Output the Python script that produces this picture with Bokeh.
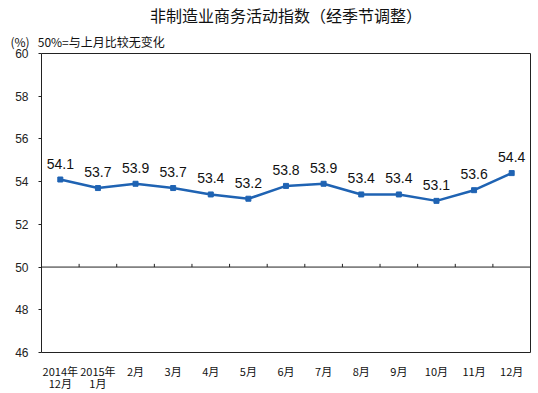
from bokeh.plotting import figure
from bokeh.models import Range1d, FixedTicker, Span, Title
from bokeh.core.properties import value
from bokeh.embed import file_html
from bokeh.resources import INLINE

months = ["2014年\n12月", "2015年\n1月", "2月", "3月", "4月", "5月", "6月",
          "7月", "8月", "9月", "10月", "11月", "12月"]
index_values = [54.1, 53.7, 53.9, 53.7, 53.4, 53.2, 53.8, 53.9, 53.4, 53.4, 53.1, 53.6, 54.4]
y_ticks = [46, 48, 50, 52, 54, 56, 58, 60]
title_text = "非制造业商务活动指数（经季节调整）"
unit_text = "(%)"
note_text = "50%=与上月比较无变化"

n = len(months)
xs = [i + 0.5 for i in range(n)]
labels = [f"{v:.1f}" for v in index_values]

p = figure(width=538, height=393, output_backend="svg", toolbar_location=None,
           x_range=Range1d(0, n), y_range=Range1d(46, 60),
           min_border_left=41, min_border_right=8, min_border_top=53, min_border_bottom=38)

# main title (outermost)
p.title.text = title_text
p.title.align = "center"
p.title.text_font = "Noto Sans CJK SC"
p.title.text_font_size = "16px"
p.title.text_font_style = "normal"
p.title.text_color = "#111111"
p.title.text_line_height = 0.7
p.title.standoff = 0

# subtitle line (closest to the frame)
p.add_layout(Title(text=unit_text + "\u00a0\u00a0\u00a0" + note_text, align="left", offset=-31,
                   text_font="Noto Sans CJK SC", text_font_size="12px", text_line_height=0.8,
                   text_font_style="normal", text_color="#111111", standoff=8), "above")

p.xgrid.visible = False
p.ygrid.visible = False
p.outline_line_color = "#222222"
p.outline_line_width = 1
p.background_fill_color = "white"
p.border_fill_color = "white"

# y axis
p.yaxis.ticker = FixedTicker(ticks=y_ticks)
p.yaxis.axis_line_color = None
p.yaxis.major_tick_in = 0
p.yaxis.major_tick_out = 3
p.yaxis.major_tick_line_color = "#222222"
p.yaxis.minor_tick_line_color = None
p.yaxis.major_label_standoff = 10
p.yaxis.major_label_text_font = "Liberation Sans"
p.yaxis.major_label_text_font_size = "12px"
p.yaxis.major_label_text_color = "#222222"

# x axis
p.xaxis.ticker = FixedTicker(ticks=xs)
p.xaxis.major_label_overrides = {x: m for x, m in zip(xs, months)}
p.xaxis.axis_line_color = None
p.xaxis.major_tick_line_color = None
p.xaxis.minor_tick_line_color = None
p.xaxis.major_tick_in = 0
p.xaxis.major_tick_out = 0
p.xaxis.major_label_standoff = 10
p.xaxis.major_label_text_font = "Noto Sans CJK SC"
p.xaxis.major_label_text_font_size = "11px"
p.xaxis.major_label_text_line_height = 0.75
p.xaxis.major_label_text_color = "#111111"

# 50 reference line with category boundary ticks
p.add_layout(Span(location=50, dimension="width", line_color="#222222", line_width=1))
bounds = list(range(1, n))
p.segment(x0=bounds, y0=[50] * len(bounds), x1=bounds, y1=[50.15] * len(bounds),
          line_color="#222222", line_width=1)

blue = "#1f63b3"
p.line(xs, index_values, line_color=blue, line_width=2.5)
p.scatter(xs, index_values, marker="square", size=5, fill_color=blue, line_color=blue)
p.text(xs, index_values, text=labels, text_align="center", text_baseline="bottom",
       y_offset=-11, text_font=value("Liberation Sans"), text_font_size="14px",
       text_color="#111111")

open("out.html", "w").write(file_html(p, INLINE))
